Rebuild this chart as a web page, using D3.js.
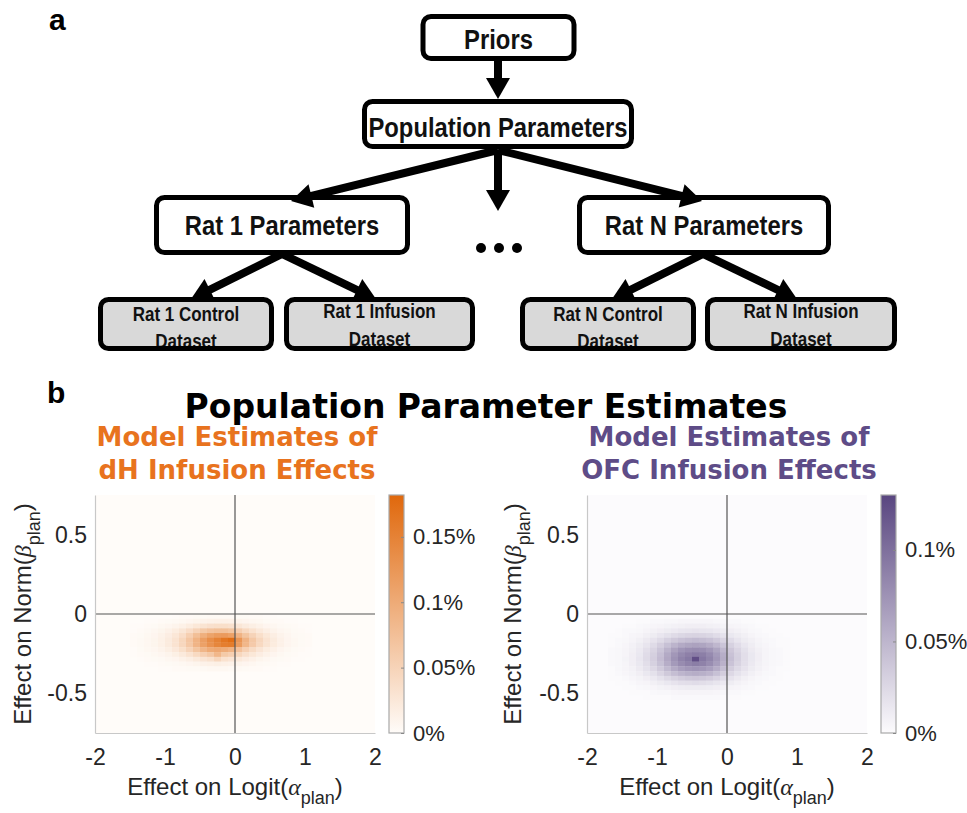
<!DOCTYPE html>
<html>
<head>
<meta charset="utf-8">
<script src="https://cdn.jsdelivr.net/npm/d3@7"></script>
<style>
  body { margin: 0; background: #fff; }
  svg { display: block; }
</style>
</head>
<body>
<div id="chart"></div>
<script>
// ---- data ----
const binW = 0.1;   // x bin width (logit alpha)
const binH = 0.03;  // y bin width (norm beta)

const xTicks = [-2, -1, 0, 1, 2];
const yTicks = [-0.5, 0, 0.5];

// dH panel: bin centres and density (%)
const dhX = [-1.45,-1.35,-1.25,-1.15,-1.05,-0.95,-0.85,-0.75,-0.65,-0.55,-0.45,-0.35,-0.25,-0.15,-0.05,0.05,0.15,0.25,0.35,0.45,0.55,0.65,0.75,0.85,0.95,1.05];
const dhY = [-0.015,-0.045,-0.075,-0.105,-0.135,-0.165,-0.195,-0.225,-0.255,-0.285,-0.315,-0.345];
const dhDensity = [
  [0,0,0,0,0,0,0.001,0.002,0.002,0.003,0.003,0.004,0.004,0.004,0.004,0.003,0.003,0.002,0.002,0.001,0.001,0,0,0,0,0],
  [0,0,0.001,0.001,0.002,0.003,0.004,0.005,0.007,0.009,0.011,0.012,0.013,0.013,0.012,0.01,0.008,0.006,0.005,0.003,0.002,0.002,0.001,0.001,0,0],
  [0.001,0.001,0.002,0.003,0.005,0.007,0.01,0.014,0.019,0.025,0.03,0.034,0.036,0.036,0.033,0.027,0.021,0.016,0.012,0.008,0.006,0.004,0.003,0.002,0.001,0.001],
  [0.001,0.002,0.004,0.006,0.009,0.013,0.019,0.027,0.038,0.05,0.062,0.07,0.074,0.074,0.068,0.056,0.043,0.032,0.023,0.016,0.011,0.007,0.005,0.003,0.002,0.001],
  [0.002,0.003,0.005,0.008,0.012,0.018,0.026,0.038,0.055,0.075,0.095,0.11,0.118,0.12,0.112,0.09,0.068,0.05,0.036,0.025,0.017,0.011,0.007,0.004,0.003,0.002],
  [0.002,0.004,0.006,0.009,0.014,0.021,0.031,0.046,0.066,0.09,0.115,0.135,0.15,0.165,0.175,0.125,0.09,0.064,0.045,0.031,0.021,0.013,0.008,0.005,0.003,0.002],
  [0.002,0.004,0.006,0.009,0.014,0.021,0.031,0.045,0.064,0.088,0.112,0.13,0.145,0.155,0.158,0.118,0.085,0.061,0.043,0.03,0.02,0.013,0.008,0.005,0.003,0.002],
  [0.001,0.003,0.005,0.007,0.011,0.016,0.024,0.035,0.05,0.068,0.086,0.1,0.104,0.098,0.09,0.072,0.054,0.039,0.028,0.019,0.013,0.008,0.005,0.003,0.002,0.001],
  [0.001,0.002,0.003,0.005,0.007,0.01,0.015,0.022,0.031,0.042,0.054,0.064,0.085,0.062,0.055,0.045,0.034,0.025,0.018,0.012,0.008,0.005,0.003,0.002,0.001,0.001],
  [0,0.001,0.002,0.003,0.004,0.006,0.008,0.012,0.016,0.022,0.028,0.033,0.045,0.032,0.028,0.023,0.018,0.013,0.009,0.006,0.004,0.003,0.002,0.001,0.001,0],
  [0,0,0.001,0.001,0.002,0.003,0.004,0.005,0.007,0.009,0.012,0.014,0.015,0.014,0.012,0.01,0.008,0.006,0.004,0.003,0.002,0.001,0.001,0,0,0],
  [0,0,0,0,0.001,0.001,0.002,0.002,0.003,0.003,0.004,0.005,0.005,0.005,0.004,0.004,0.003,0.002,0.002,0.001,0.001,0,0,0,0,0]
];
const dhMax = 0.182;
const dhCbarTicks = [0, 0.05, 0.1, 0.15];

// OFC panel
const ofcX = [-1.65,-1.55,-1.45,-1.35,-1.25,-1.15,-1.05,-0.95,-0.85,-0.75,-0.65,-0.55,-0.45,-0.35,-0.25,-0.15,-0.05,0.05,0.15,0.25,0.35,0.45,0.55,0.65,0.75,0.85];
const ofcY = [-0.045,-0.075,-0.105,-0.135,-0.165,-0.195,-0.225,-0.255,-0.285,-0.315,-0.345,-0.375,-0.405,-0.435,-0.465,-0.495,-0.525];
const ofcDensity = [
  [0,0,0,0,0.001,0.001,0.002,0.002,0.003,0.003,0.004,0.004,0.004,0.004,0.004,0.003,0.003,0.002,0.002,0.001,0.001,0,0,0,0,0],
  [0,0,0.001,0.001,0.002,0.003,0.004,0.005,0.006,0.007,0.008,0.009,0.009,0.009,0.008,0.007,0.006,0.005,0.004,0.003,0.002,0.001,0.001,0,0,0],
  [0,0.001,0.002,0.002,0.003,0.005,0.007,0.009,0.011,0.013,0.015,0.016,0.017,0.016,0.015,0.013,0.011,0.009,0.007,0.005,0.003,0.002,0.001,0.001,0,0],
  [0.001,0.001,0.002,0.004,0.005,0.008,0.011,0.015,0.019,0.023,0.026,0.028,0.029,0.028,0.026,0.022,0.018,0.014,0.011,0.008,0.005,0.003,0.002,0.001,0.001,0],
  [0.001,0.002,0.003,0.005,0.008,0.012,0.017,0.023,0.03,0.036,0.041,0.044,0.046,0.044,0.041,0.035,0.028,0.022,0.016,0.011,0.008,0.005,0.003,0.002,0.001,0.001],
  [0.001,0.002,0.004,0.007,0.011,0.016,0.023,0.032,0.042,0.051,0.058,0.062,0.064,0.062,0.057,0.049,0.039,0.03,0.022,0.015,0.01,0.006,0.004,0.002,0.001,0.001],
  [0.002,0.003,0.005,0.008,0.013,0.02,0.028,0.039,0.052,0.064,0.073,0.078,0.08,0.078,0.072,0.062,0.049,0.037,0.027,0.019,0.012,0.008,0.005,0.003,0.002,0.001],
  [0.002,0.003,0.005,0.009,0.014,0.022,0.031,0.043,0.058,0.072,0.082,0.088,0.092,0.089,0.081,0.069,0.055,0.041,0.03,0.021,0.014,0.009,0.005,0.003,0.002,0.001],
  [0.002,0.003,0.006,0.009,0.015,0.023,0.032,0.045,0.06,0.075,0.086,0.093,0.124,0.094,0.085,0.072,0.057,0.043,0.031,0.021,0.014,0.009,0.005,0.003,0.002,0.001],
  [0.002,0.003,0.005,0.009,0.014,0.021,0.03,0.042,0.056,0.07,0.08,0.086,0.09,0.087,0.079,0.067,0.053,0.04,0.029,0.02,0.013,0.008,0.005,0.003,0.002,0.001],
  [0.001,0.003,0.005,0.007,0.012,0.018,0.025,0.035,0.047,0.058,0.067,0.072,0.074,0.072,0.066,0.056,0.044,0.033,0.024,0.017,0.011,0.007,0.004,0.002,0.001,0.001],
  [0.001,0.002,0.004,0.006,0.009,0.014,0.019,0.027,0.036,0.044,0.05,0.054,0.056,0.054,0.05,0.042,0.033,0.025,0.018,0.013,0.008,0.005,0.003,0.002,0.001,0],
  [0.001,0.001,0.002,0.004,0.006,0.009,0.013,0.018,0.024,0.029,0.033,0.036,0.037,0.036,0.033,0.028,0.022,0.017,0.012,0.008,0.005,0.003,0.002,0.001,0.001,0],
  [0,0.001,0.001,0.002,0.004,0.005,0.008,0.011,0.014,0.017,0.02,0.021,0.022,0.021,0.019,0.016,0.013,0.01,0.007,0.005,0.003,0.002,0.001,0.001,0,0],
  [0,0,0.001,0.001,0.002,0.003,0.004,0.006,0.007,0.009,0.01,0.011,0.011,0.011,0.01,0.009,0.007,0.005,0.004,0.003,0.002,0.001,0.001,0,0,0],
  [0,0,0,0.001,0.001,0.001,0.002,0.003,0.003,0.004,0.005,0.005,0.005,0.005,0.005,0.004,0.003,0.002,0.002,0.001,0.001,0,0,0,0,0],
  [0,0,0,0,0,0.001,0.001,0.001,0.001,0.002,0.002,0.002,0.002,0.002,0.002,0.002,0.001,0.001,0.001,0,0,0,0,0,0,0]
];
const ofcMax = 0.130;
const ofcCbarTicks = [0, 0.05, 0.1];

// ---- page ----
const W = 967, H = 813;
const svg = d3.select("#chart").append("svg")
  .attr("width", W).attr("height", H);
svg.append("rect").attr("width", W).attr("height", H).attr("fill", "#fff");

// Calibri-like look: bold Liberation Sans squeezed horizontally
const diagFont = "'Liberation Sans', Arial, sans-serif";
const squeeze = 0.85;

// panel letters
svg.append("text").attr("x", 49).attr("y", 30)
  .style("font", "bold 30px 'Liberation Sans', Arial, sans-serif").text("a");
svg.append("text").attr("x", 47).attr("y", 403)
  .style("font", "bold 30px 'Liberation Sans', Arial, sans-serif").text("b");

// ---- panel a : hierarchy diagram ----
const nodes = [
  {lines: ["Priors"], x: 423, y: 16.5, w: 151, h: 42, fill: "#fff", size: 28, base: [49]},
  {lines: ["Population Parameters"], x: 364.5, y: 101.5, w: 267, h: 45, fill: "#fff", size: 28, base: [137]},
  {lines: ["Rat 1 Parameters"], x: 156.5, y: 197.5, w: 251, h: 55, fill: "#fff", size: 28, base: [235]},
  {lines: ["Rat N Parameters"], x: 579.5, y: 197.5, w: 249, h: 55, fill: "#fff", size: 28, base: [235]},
  {lines: ["Rat 1 Control", "Dataset"], x: 100.5, y: 299.5, w: 171, h: 49, fill: "#d9d9d9", size: 20, base: [321, 348]},
  {lines: ["Rat 1 Infusion", "Dataset"], x: 286.5, y: 299.5, w: 186, h: 49, fill: "#d9d9d9", size: 20, base: [318, 346]},
  {lines: ["Rat N Control", "Dataset"], x: 522.5, y: 299.5, w: 171, h: 49, fill: "#d9d9d9", size: 20, base: [321, 348]},
  {lines: ["Rat N Infusion", "Dataset"], x: 707.5, y: 299.5, w: 187, h: 49, fill: "#d9d9d9", size: 20, base: [318, 346]}
];

const arrows = [
  [[498, 60], [498, 99]],
  [[498, 150], [291, 201]],
  [[498, 150], [498, 211]],
  [[498, 150], [702, 201]],
  [[282, 254], [191, 299]],
  [[282, 254], [376, 299]],
  [[703, 254], [612, 299]],
  [[703, 254], [797, 299]]
];

const diag = svg.append("g");

const nodeG = diag.selectAll("g.node").data(nodes).enter().append("g").attr("class", "node");
nodeG.append("rect")
  .attr("x", d => d.x).attr("y", d => d.y)
  .attr("width", d => d.w).attr("height", d => d.h)
  .attr("rx", 8).attr("fill", d => d.fill);
nodeG.each(function(d) {
  const g = d3.select(this);
  d.lines.forEach((ln, i) => {
    g.append("text")
      .attr("transform", `translate(${d.x + d.w / 2},${d.base[i]}) scale(${squeeze},1)`)
      .attr("text-anchor", "middle")
      .style("font-family", diagFont)
      .style("font-weight", "bold")
      .style("font-size", d.size + "px")
      .attr("fill", "#111")
      .text(ln);
  });
});
// outline on top so the second text line is cut by the border, as in the original
nodeG.append("rect")
  .attr("x", d => d.x).attr("y", d => d.y)
  .attr("width", d => d.w).attr("height", d => d.h)
  .attr("rx", 8).attr("fill", "none")
  .attr("stroke", "#000").attr("stroke-width", 5);

const headLen = 21, headHalf = 12;
arrows.forEach(([a, b]) => {
  const dx = b[0] - a[0], dy = b[1] - a[1];
  const len = Math.hypot(dx, dy);
  const ux = dx / len, uy = dy / len;
  const bx = b[0] - ux * headLen, by = b[1] - uy * headLen;
  diag.append("line")
    .attr("x1", a[0]).attr("y1", a[1])
    .attr("x2", bx + ux * 2).attr("y2", by + uy * 2)
    .attr("stroke", "#000").attr("stroke-width", 8);
  diag.append("path")
    .attr("d", `M${b[0]},${b[1]}L${bx - uy * headHalf},${by + ux * headHalf}L${bx + uy * headHalf},${by - ux * headHalf}Z`)
    .attr("fill", "#000");
});

// the "..." between the rats
diag.selectAll("circle.dot").data([-1, 0, 1]).enter().append("circle")
  .attr("cx", d => 499 + d * 18).attr("cy", 248).attr("r", 5).attr("fill", "#000");

// ---- panel b : heatmaps ----
svg.append("text")
  .attr("x", 486).attr("y", 418)
  .attr("text-anchor", "middle")
  .style("font", "bold 33px 'DejaVu Sans', Verdana, sans-serif")
  .attr("fill", "#000")
  .text("Population Parameter Estimates");

const defs = svg.append("defs");

function heatPanel(opt) {
  const plot = {left: opt.left, top: 495, width: 280, height: 238};
  const x = d3.scaleLinear().domain([-2, 2]).range([plot.left, plot.left + plot.width]);
  const y = d3.scaleLinear().domain([-0.75, 0.75]).range([plot.top + plot.height, plot.top]);
  const color = d3.scaleLinear().domain([0, opt.max]).range([opt.low, opt.high]).clamp(true);

  const g = svg.append("g");

  // subtitle
  opt.title.forEach((t, i) => {
    g.append("text")
      .attr("x", opt.titleX).attr("y", 446 + i * 33)
      .attr("text-anchor", "middle")
      .style("font", "bold 26px 'DejaVu Sans', Verdana, sans-serif")
      .attr("fill", opt.titleColor)
      .text(t);
  });

  // background = lowest colour of the map
  g.append("rect")
    .attr("x", plot.left).attr("y", plot.top)
    .attr("width", plot.width).attr("height", plot.height)
    .attr("fill", opt.low);

  const cells = [];
  opt.ys.forEach((yc, i) => opt.xs.forEach((xc, j) => {
    const v = opt.values[i][j];
    if (v > 0) cells.push({xc, yc, v});
  }));

  g.append("g").selectAll("rect").data(cells).enter().append("rect")
    .attr("x", d => x(d.xc - binW / 2))
    .attr("y", d => y(d.yc + binH / 2))
    .attr("width", d => x(d.xc + binW / 2) - x(d.xc - binW / 2) + 0.3)
    .attr("height", d => y(d.yc - binH / 2) - y(d.yc + binH / 2) + 0.3)
    .attr("fill", d => color(d.v));

  // zero lines
  g.append("line")
    .attr("x1", x(0)).attr("x2", x(0)).attr("y1", plot.top).attr("y2", plot.top + plot.height)
    .attr("stroke", "#555").attr("stroke-width", 1.2);
  g.append("line")
    .attr("x1", plot.left).attr("x2", plot.left + plot.width).attr("y1", y(0)).attr("y2", y(0))
    .attr("stroke", "#555").attr("stroke-width", 1.2);

  const tickFont = "22px 'Liberation Sans', Arial, sans-serif";
  const xAxis = g.append("g")
    .attr("transform", `translate(0,${plot.top + plot.height})`)
    .call(d3.axisBottom(x).tickValues(xTicks).tickSize(0).tickPadding(16).tickFormat(d => String(d)));
  const yAxis = g.append("g")
    .attr("transform", `translate(${plot.left},0)`)
    .call(d3.axisLeft(y).tickValues(yTicks).tickSize(0).tickPadding(8).tickFormat(d => String(d)));
  [xAxis, yAxis].forEach(ax => {
    ax.select(".domain").attr("stroke", "#c8c8c8").attr("stroke-width", 1.2);
    ax.selectAll("text").style("font", "23px 'Liberation Sans', Arial, sans-serif").attr("fill", "#262626");
  });

  // axis labels
  const labFont = "24px 'Liberation Sans', Arial, sans-serif";
  const xl = g.append("text")
    .attr("x", x(0)).attr("y", 795)
    .attr("text-anchor", "middle")
    .style("font", labFont).attr("fill", "#262626");
  xl.append("tspan").text("Effect on Logit(");
  xl.append("tspan").style("font-style", "italic").style("font-family", "'Liberation Serif', serif").text("\u03B1");
  xl.append("tspan").attr("dy", 9).style("font-size", "18px").text("plan");
  xl.append("tspan").attr("dy", -9).text(")");

  const yl = g.append("text")
    .attr("transform", `translate(${opt.ylabX},${y(0)}) rotate(-90)`)
    .attr("text-anchor", "middle")
    .style("font", labFont).attr("fill", "#262626");
  yl.append("tspan").text("Effect on Norm(");
  yl.append("tspan").style("font-style", "italic").style("font-family", "'Liberation Serif', serif").text("\u03B2");
  yl.append("tspan").attr("dy", 9).style("font-size", "18px").text("plan");
  yl.append("tspan").attr("dy", -9).text(")");

  // colour bar
  const cb = {left: opt.cbLeft, width: 15};
  const cy = d3.scaleLinear().domain([0, opt.max]).range([plot.top + plot.height, plot.top]);
  const grad = defs.append("linearGradient").attr("id", opt.id)
    .attr("x1", 0).attr("y1", 1).attr("x2", 0).attr("y2", 0);
  grad.append("stop").attr("offset", 0).attr("stop-color", opt.low);
  grad.append("stop").attr("offset", 1).attr("stop-color", opt.high);
  g.append("rect")
    .attr("x", cb.left).attr("y", plot.top)
    .attr("width", cb.width).attr("height", plot.height)
    .attr("fill", `url(#${opt.id})`)
    .attr("stroke", "#a8a8a8").attr("stroke-width", 1.2);
  const cbAxis = g.append("g")
    .attr("transform", `translate(${cb.left + cb.width},0)`)
    .call(d3.axisRight(cy).tickValues(opt.cbTicks).tickSizeInner(-3).tickSizeOuter(0).tickPadding(9)
      .tickFormat(d => String(d) + "%"));
  cbAxis.select(".domain").remove();
  cbAxis.selectAll("line").attr("stroke", "#888");
  cbAxis.selectAll("text").style("font", tickFont).attr("fill", "#262626");
}

heatPanel({
  id: "gradDH", left: 95, cbLeft: 389, ylabX: 31, titleX: 237,
  title: ["Model Estimates of", "dH Infusion Effects"], titleColor: "#e8731e",
  xs: dhX, ys: dhY, values: dhDensity, max: dhMax, cbTicks: dhCbarTicks,
  low: "#fffcf9", high: "#e0680c"
});

heatPanel({
  id: "gradOFC", left: 587, cbLeft: 881, ylabX: 521, titleX: 729,
  title: ["Model Estimates of", "OFC Infusion Effects"], titleColor: "#5e4c87",
  xs: ofcX, ys: ofcY, values: ofcDensity, max: ofcMax, cbTicks: ofcCbarTicks,
  low: "#fcfbfd", high: "#594680"
});
</script>
</body>
</html>
